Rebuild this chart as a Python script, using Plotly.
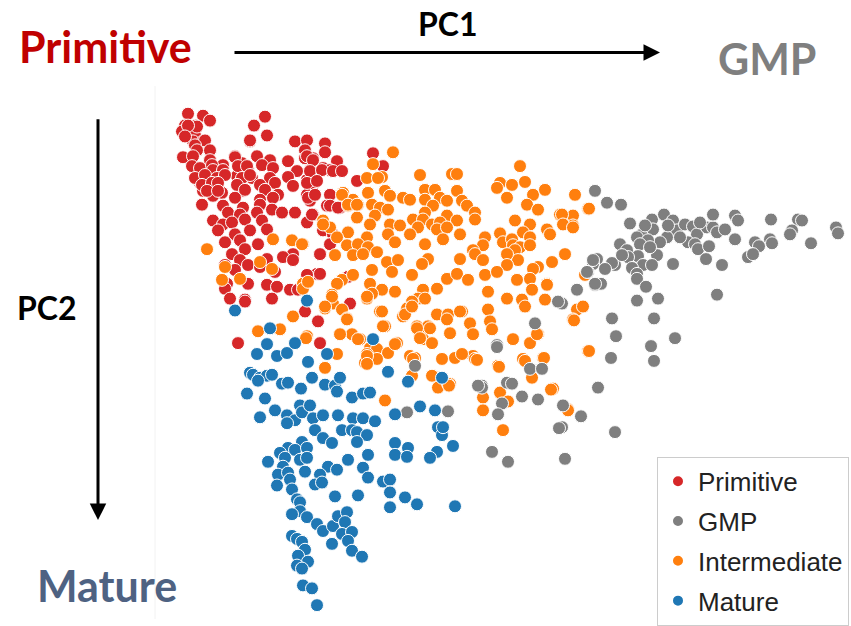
import plotly.graph_objects as go

# PCA coordinates (PC1 to the right, PC2 downward), in image-scale units
primitive_pts = [
    (188,115),(203,117),(210,122),(265,118),(185,127),(196,127),(182,133),(254,127),(267,137),(195,137),
    (250,143),(193,143),(203,143),(295,143),(307,142),(325,145),(197,152),(210,153),(305,152),(325,154),(373,155),
    (183,159),(235,158),(257,158),(270,162),(288,163),(305,160),(313,160),(337,163),(193,168),(213,170),(223,167),
    (242,165),(248,172),(262,167),(273,170),(297,173),(310,172),(323,170),(330,172),
    (200,177),(210,175),(237,178),(252,180),(270,180),(288,179),(307,182),(200,185),(218,183),(237,187),(260,187),
    (275,185),(293,188),(313,187),
    (203,193),(222,195),(243,193),(265,192),(278,197),(307,197),(330,197),(213,198),(235,200),(260,202),(273,200),
    (310,203),(202,207),(223,208),(243,210),(260,207),(272,212),(282,215),(295,215),(313,217),(327,208),(340,210),
    (228,215),(240,217),(257,215),(213,223),(223,227),(232,225),(245,222),(262,223),(307,225),(218,233),(235,237),
    (250,233),(267,232),(323,233),(333,237),
    (225,245),(240,243),(258,247),(245,252),(232,257),(293,257),(283,260),(320,257),(330,247),(267,262),(240,263),(293,263),
    (225,268),(235,273),(248,268),(260,270),(275,275),(317,277),(227,287),(225,292),(248,287),(267,288),(277,290),
    (290,293),(307,280),(230,302),(245,303),(272,302),(298,293),(350,307),
    (245,305),(305,315),(318,325),(238,347),(320,347),
    (307,158),(313,162),(310,173),(322,172),(333,173),(342,173),(307,185),(317,183),(357,183),(383,168),(308,200),
    (315,197),(330,208),(338,210),(312,217),(330,247),(320,257),(320,277),(307,278),(348,280),
    (197,128),(188,127),(185,138),(205,142),(195,147),(197,152),(210,152),(193,158),(210,162),(192,168),(200,170),
    (212,167),(213,172),(223,172),(235,159),(238,168),(247,168),(195,180),(205,177),(217,180),(225,177),(242,180),
    (250,177),(202,187),(212,185),(218,185),(207,193),(218,193),(237,187),(245,192),(250,142),
]

gmp_pts = [
    (595,193),(607,205),(621,207),(630,226),(652,222),(664,217),(673,223),(677,233),(685,227),(693,229),(697,237),
    (707,230),(713,230),(717,235),(713,217),(735,218),(738,223),(771,222),(798,222),(802,223),(836,230),(838,236),
    (642,237),(637,240),(653,232),(667,240),(660,245),(648,243),(640,247),(620,247),(627,253),(638,259),(628,260),
    (657,258),(643,268),(652,268),(632,271),(615,268),(612,266),(597,262),(593,267),(588,275),(637,277),(637,282),
    (673,267),(688,245),(695,247),(698,252),(709,249),(706,262),(722,268),(735,242),(755,245),(759,249),(748,260),
    (753,257),(770,242),(772,246),(792,233),(790,237),(811,246),(717,298),(595,288),(601,287),(646,290),(577,293),
    (562,307),(637,304),(658,302),(612,322),(654,322),(616,340),(675,342),(651,350),(654,365),(611,362),(598,392),
    (581,421),(615,437),(563,410),(562,432),
    (593,263),(587,275),(595,287),(558,305),(535,327),(497,349),(415,370),(482,390),
    (497,351),(530,373),(542,373),(482,392),(507,387),(512,388),(522,401),(538,404),(448,416),(502,408),(498,419),
    (559,433),(492,457),(508,467),(565,464),(407,417),(478,390),
    (645,228),(668,228),(680,240),(700,225),(725,232),(650,250),(622,258),(605,272),
]

intermediate_pts = [
    (393,154),(373,166),(520,168),(420,177),(452,176),(457,176),(382,179),(500,185),(512,187),(525,184),
    (343,195),(368,195),(385,193),(425,192),(435,192),(457,193),(497,190),(507,200),(533,197),(545,192),(575,197),
    (390,198),(353,202),(440,200),(447,203),(462,203),(403,200),(410,202),(425,202),
    (348,208),(358,207),(372,207),(380,210),(388,212),(433,208),(467,208),(527,207),(538,212),(588,211),(357,220),
    (375,218),(425,215),(447,218),(475,215),(560,217),(573,218),
    (323,223),(330,230),(370,227),(390,227),(400,228),(413,222),(423,222),(432,227),(440,225),(457,223),(475,222),
    (515,223),(530,227),(573,228),(437,232),(447,230),(418,230),(388,237),(410,237),(348,235),(460,237),(547,232),
    (550,237),(500,236),(523,235),
    (337,240),(367,240),(395,245),(425,247),(443,242),(485,240),(503,245),(512,242),(530,240),(347,248),(358,247),
    (368,250),(303,247),(483,248),(473,253),(513,248),(520,250),(530,248),
    (335,258),(353,258),(363,257),(377,255),(428,262),(460,262),(475,257),(483,263),(515,253),(518,263),(507,257),
    (565,257),(387,265),(398,263),(422,267),(507,268),(538,270),(552,265),
    (372,273),(392,275),(412,278),(447,282),(457,277),(468,283),(485,278),(497,275),(517,283),(533,272),(547,287),
    (530,282),(342,283),(353,278),(337,287),
    (303,287),(370,287),(382,293),(395,295),(372,297),(332,298),(367,302),(423,293),(437,292),(488,295),(532,293),
    (547,288),(507,302),(522,303),(545,303),(418,302),
    (333,307),(342,313),(325,312),(380,315),(412,305),(407,312),(403,320),(437,318),(448,318),(462,315),(488,313),
    (525,310),(577,313),(583,310),(573,323),
    (347,322),(385,330),(417,330),(428,330),(447,323),(470,327),(490,325),(450,337),(473,338),(492,333),(538,338),
    (307,340),(340,338),(352,338),(420,338),
    (360,343),(397,347),(423,343),(432,347),(370,352),(377,353),(388,357),(337,358),(367,358),(410,360),(442,363),
    (455,362),(473,360),(513,343),(530,347),(537,338),(588,355),(498,370),(523,363),(543,362),
    (325,372),(365,367),(377,363),(415,362),(433,380),(450,388),(532,382),(553,393),
    (207,252),(273,242),(292,243),(302,247),(260,265),(272,272),(225,270),(222,283),(240,282),(303,292),(308,285),
    (332,300),(325,310),(323,227),(342,197),(348,207),(357,207),(367,180),(378,180),
    (258,335),(280,333),(293,320),(306,342),(347,323),(340,338),(358,343),(367,360),(367,368),(382,315),(383,330),
    (395,348),(413,363),(412,380),(432,380),(438,392),(448,388),(385,405),(475,363),(417,332),(430,332),(420,342),
    (450,337),(405,318),(412,310),(460,315),(425,302),(367,300),
    (589,211),(562,217),(563,227),(573,230),(585,278),(574,324),(589,355),(568,414),
    (462,358),(477,364),(499,371),(525,365),(544,362),(449,390),(483,402),(500,397),(508,406),(551,394),(483,415),
    (568,415),(503,435),
]

mature_pts = [
    (307,304),(235,314),(270,332),(267,348),(257,358),(277,360),(287,357),(295,347),(308,366),(327,358),(373,343),
    (250,377),(253,379),(260,382),(267,380),(272,379),(258,385),(282,388),(288,387),(301,393),(312,382),(325,389),
    (335,390),(337,396),(340,382),(247,398),(265,403),(352,402),(363,398),(370,397),(388,376),(408,386),(395,419),
    (420,411),(435,415),(260,422),(275,415),(287,420),(295,425),(300,410),(302,417),(310,410),(313,423),(323,420),
    (338,420),(353,423),(363,423),(375,426),(287,428),(315,435),(342,435),(352,435),(357,437),(367,440),(323,443),
    (332,448),(357,447),(438,432),(442,440),(302,447),(288,453),(295,455),(307,453),(280,458),(300,465),(307,463),
    (268,467),(285,463),(283,472),(305,477),(395,448),(395,460),(408,453),(407,462),(437,457),(430,463),(453,451),
    (368,460),(348,465),(363,473),(278,480),(288,478),(290,485),(328,472),(337,475),(320,480),(315,490),(322,488),
    (277,491),(292,495),(368,483),(383,487),(390,485),(390,498),(405,503),(417,510),(390,513),(455,512),(335,502),
    (358,501),(297,505),(300,508),(300,517),(292,520),(307,523),(317,530),(323,537),(333,532),(338,522),(347,518),
    (345,528),(342,540),(352,538),(348,547),(332,550),(352,557),(362,563),(292,542),(297,545),(302,548),(305,556),
    (298,562),(308,568),(297,572),(302,575),(303,592),(312,595),(317,612),(442,382),(443,432),
]

series = [
    ("Primitive", primitive_pts, "#d62728", 1),
    ("Intermediate", intermediate_pts, "#ff7f0e", 3),
    ("GMP", gmp_pts, "#7f7f7f", 2),
    ("Mature", mature_pts, "#1f77b4", 4),
]

fig = go.Figure()
for name, pts, color, rank in series:
    xs = [p[0] for p in pts]
    ys = [p[1] for p in pts]
    fig.add_trace(go.Scatter(
        x=xs, y=ys, mode="markers", name=name, legendgroup=name, legendrank=rank,
        marker=dict(size=13, color=color, line=dict(color="white", width=1)),
    ))

label_font = "Lato"
annotations = [
    dict(x=105, y=47, text="Primitive", font=dict(family=label_font, size=43, color="#c00000", weight="bold")),
    dict(x=448, y=24, text="PC1", font=dict(family=label_font, size=32, color="#000000", weight="bold")),
    dict(x=767, y=59, text="GMP", font=dict(family=label_font, size=43, color="#7f7f7f", weight="bold")),
    dict(x=47, y=311, text="PC2", font=dict(family=label_font, size=32, color="#000000", weight="bold")),
    dict(x=107, y=592, text="Mature", font=dict(family=label_font, size=43, color="#4e6282", weight="bold")),
]
for a in annotations:
    a.update(xref="x", yref="y", showarrow=False)

arrows = [
    dict(x=660, y=53, ax=233, ay=53),
    dict(x=98, y=526, ax=98, ay=119),
]
for a in arrows:
    a.update(xref="x", yref="y", axref="x", ayref="y", text="", showarrow=True,
             arrowhead=2, arrowsize=1.1, arrowwidth=3, arrowcolor="#000000")

fig.update_layout(
    width=851, height=626,
    margin=dict(l=0, r=0, t=0, b=0),
    paper_bgcolor="white", plot_bgcolor="white",
    xaxis=dict(range=[0, 851], visible=False),
    yaxis=dict(range=[626, 0], visible=False),
    annotations=annotations + arrows,
    shapes=[dict(type="line", xref="x", yref="y", x0=155, x1=155, y0=87, y1=626,
                 line=dict(color="#f2f2f2", width=1))],
    showlegend=True,
    legend=dict(
        x=657 / 851, y=1 - 462 / 626, xanchor="left", yanchor="top",
        font=dict(family="Liberation Sans", size=26, color="#222222"),
        bgcolor="white", bordercolor="#cccccc", borderwidth=1,
        tracegroupgap=3, itemsizing="constant",
    ),
)

fig.write_html("out.html", config={"displayModeBar": False},
               post_script="document.body.style.margin='0';document.body.style.overflow='hidden';")
